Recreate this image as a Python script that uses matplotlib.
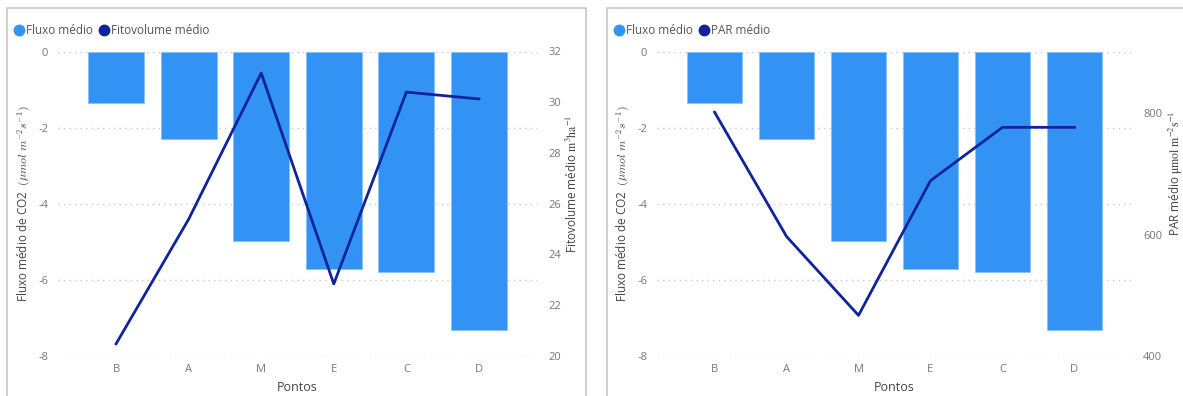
import matplotlib
matplotlib.use("Agg")
import matplotlib.pyplot as plt
from matplotlib.lines import Line2D
from matplotlib.patches import Rectangle

plt.rcParams['font.family'] = ['Open Sans', 'DejaVu Sans']
plt.rcParams['axes.unicode_minus'] = False

# data
pontos = ['B', 'A', 'M', 'E', 'C', 'D']
fluxo = [-1.35, -2.30, -4.97, -5.71, -5.78, -7.31]
fitovolume = [20.48, 25.39, 31.15, 22.84, 30.40, 30.13]
par = [802, 597, 467, 689, 777, 777]

bar_color = '#3393F5'
line_color = '#10239A'
tick_color = '#777777'
label_color = '#444444'

W, H = 1183, 396
fig = plt.figure(figsize=(W / 100, H / 100), dpi=100)

# panel borders
for x0, x1 in [(7, 586), (607, 1190)]:
    fig.patches.append(Rectangle((x0 / W, -0.01), (x1 - x0) / W, (H - 8) / H + 0.01,
                                 transform=fig.transFigure, fill=False,
                                 edgecolor='#c8c8c8', lw=1.2))


def panel(left, right, line_vals, line_name, ylim2, yticks2, ylabel2, label2_y, legx):
    ax = fig.add_axes([left / W, (H - 356) / H, (right - left) / W, (356 - 51.5) / H])
    x = range(len(pontos))
    ax.bar(x, fluxo, width=0.77, color=bar_color, edgecolor='#8cc2fa', lw=0.6, zorder=2)
    ax.set_ylim(-8, 0)
    ax.set_xlim(-0.8, 5.8)
    ax.set_yticks([0, -2, -4, -6, -8])
    ax.grid(axis='y', color='#c8c8c8', ls=(0, (1, 3)), lw=1, zorder=0)
    ax.set_xticks(list(x))
    ax.set_xticklabels(pontos)
    for s in ax.spines.values():
        s.set_visible(False)
    ax.tick_params(length=0, colors=tick_color, labelsize=8, pad=7)
    ax.tick_params(axis='x', pad=6)
    ax.set_xlabel('Pontos', fontsize=9, color=label_color, labelpad=4)
    ax.set_ylabel(r'Fluxo médio de CO2  $(\mu mol\ m^{-2}s^{-1})$', fontsize=8.5,
                  color=label_color, math_fontfamily='cm', labelpad=4)

    ax2 = ax.twinx()
    ax2.plot(x, line_vals, color=line_color, lw=2.0, zorder=3)
    ax2.set_ylim(*ylim2)
    ax2.set_yticks(yticks2)
    for s in ax2.spines.values():
        s.set_visible(False)
    ax2.tick_params(length=0, colors=tick_color, labelsize=8, pad=8)
    ax2.set_ylabel(ylabel2, fontsize=8.5, color=label_color, math_fontfamily='stix',
                   labelpad=3, y=label2_y)

    handles = [Line2D([], [], marker='o', ls='', color=bar_color, markersize=7.5),
               Line2D([], [], marker='o', ls='', color=line_color, markersize=7.5)]
    fig.legend(handles, ['Fluxo médio', line_name], loc='center left',
               bbox_to_anchor=(legx / W, 1 - 31 / H), ncol=2, frameon=False,
               handletextpad=0.0, columnspacing=0.3, handlelength=1.2,
               fontsize=8.5, labelcolor='#555555', borderaxespad=0, borderpad=0)


panel(58, 537, fitovolume, 'Fitovolume médio', (20, 32), [20, 22, 24, 26, 28, 30, 32],
      r'Fitovolume médio $\mathrm{m^{3}ha^{-1}}$', 0.565, 12)
panel(657, 1132, par, 'PAR médio', (400, 902), [400, 600, 800],
      r'PAR médio $\mathrm{\mu mol\ m^{-2}s^{-1}}$', 0.60, 612)

fig.savefig('out.png', dpi=100)
